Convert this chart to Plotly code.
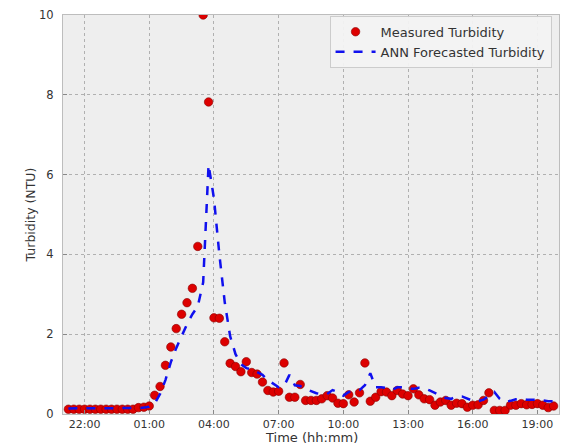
import pandas as pd
import plotly.graph_objects as go

# 15-minute sampling times from 21:15 to 19:45 next day
times = pd.date_range("2000-01-01 21:15", "2000-01-02 19:45", freq="15min")

measured = [
    0.12, 0.12, 0.12, 0.12, 0.12, 0.12, 0.12, 0.12, 0.12, 0.12, 0.12, 0.12, 0.12, 0.16, 0.17,
    0.20, 0.47, 0.69, 1.22, 1.68, 2.14, 2.50, 2.79, 3.15, 4.20, 10.0, 7.82,
    2.41, 2.40, 1.81, 1.27, 1.19, 1.06, 1.31, 1.04,
    1.00, 0.80, 0.59, 0.55,
    0.57, 1.28, 0.42, 0.42,
    0.74, 0.34, 0.34, 0.34,
    0.38, 0.46, 0.40, 0.27,
    0.26, 0.48, 0.30, 0.53,
    1.28, 0.32, 0.42, 0.56,
    0.55, 0.46, 0.59, 0.50,
    0.46, 0.63, 0.48, 0.38,
    0.36, 0.22, 0.30, 0.34,
    0.22, 0.27, 0.26, 0.17,
    0.22, 0.23, 0.34, 0.53,
    0.09, 0.09, 0.09, 0.22,
    0.22, 0.26, 0.23, 0.24,
    0.26, 0.22, 0.16, 0.20,
]

forecast = [
    0.14, 0.14, 0.14, 0.14, 0.14, 0.14, 0.14, 0.14, 0.14, 0.14, 0.14, 0.14, 0.14, 0.15, 0.16,
    0.18, 0.26, 0.50, 0.85, 1.30, 1.65, 1.95, 2.25, 2.50, 2.70, 3.30, 6.25,
    5.40, 4.00, 2.80, 1.95, 1.50, 1.25, 1.15, 1.12,
    1.05, 0.98, 0.85, 0.75,
    0.67, 0.70, 0.98, 0.72,
    0.70, 0.63, 0.57, 0.52,
    0.50, 0.50, 0.60, 0.55,
    0.46, 0.55, 0.57, 0.60,
    0.72, 1.02, 0.67, 0.67,
    0.65, 0.60, 0.67, 0.67,
    0.63, 0.63, 0.66, 0.65,
    0.59, 0.52, 0.45, 0.40,
    0.38, 0.44, 0.44, 0.38,
    0.33, 0.32, 0.36, 0.45,
    0.55, 0.38, 0.30, 0.33,
    0.37, 0.38, 0.36, 0.36,
    0.36, 0.34, 0.32, 0.32,
]

fig = go.Figure()
fig.add_trace(go.Scatter(
    x=times, y=measured, mode="markers", name="Measured Turbidity",
    marker=dict(color="#dd0000", size=8.5, line=dict(color="#880000", width=0.6)),
))
fig.add_trace(go.Scatter(
    x=times, y=forecast, mode="lines", name="ANN Forecasted Turbidity",
    line=dict(color="#1010ee", width=2.5, dash="dash"),
))

axis_common = dict(
    showgrid=True, gridcolor="#b0b0b0", griddash="dot", gridwidth=1,
    ticks="inside", ticklen=4, tickcolor="#888888",
    showline=True, linecolor="#bdbdbd", linewidth=1, mirror=True,
    zeroline=False,
)

fig.update_layout(
    width=561, height=446,
    margin=dict(l=63, r=2, t=15, b=32),
    paper_bgcolor="white", plot_bgcolor="#eeeeee",
    font=dict(family="DejaVu Sans", color="#333333"),
    xaxis=dict(
        type="date", range=["2000-01-01 21:00", "2000-01-02 20:00"],
        tick0="2000-01-01 22:00", dtick=3 * 3600 * 1000, tickformat="%H:%M",
        tickfont=dict(size=11, color="#333333"),
        automargin=False,
        **axis_common,
    ),
    yaxis=dict(
        range=[0, 10], dtick=2,
        tickfont=dict(size=11.5, color="#333333"),
        ticklabelstandoff=6,
        title=dict(text="Turbidity (NTU)", font=dict(size=12.5), standoff=0),
        automargin=False,
        **axis_common,
    ),
    annotations=[dict(
        text="Time (hh:mm)", x=0.5, y=0, xref="paper", yref="paper",
        xanchor="center", yanchor="bottom", yshift=-32, showarrow=False,
        borderpad=0, font=dict(size=13, color="#333333"),
    )],
    legend=dict(
        x=0.985, y=0.998, xanchor="right", yanchor="top",
        bgcolor="rgba(242,242,242,0.95)", bordercolor="#cccccc", borderwidth=1,
        font=dict(size=13, color="#333333"), tracegroupgap=0, itemwidth=40,
    ),
)

fig.write_html("out.html")
